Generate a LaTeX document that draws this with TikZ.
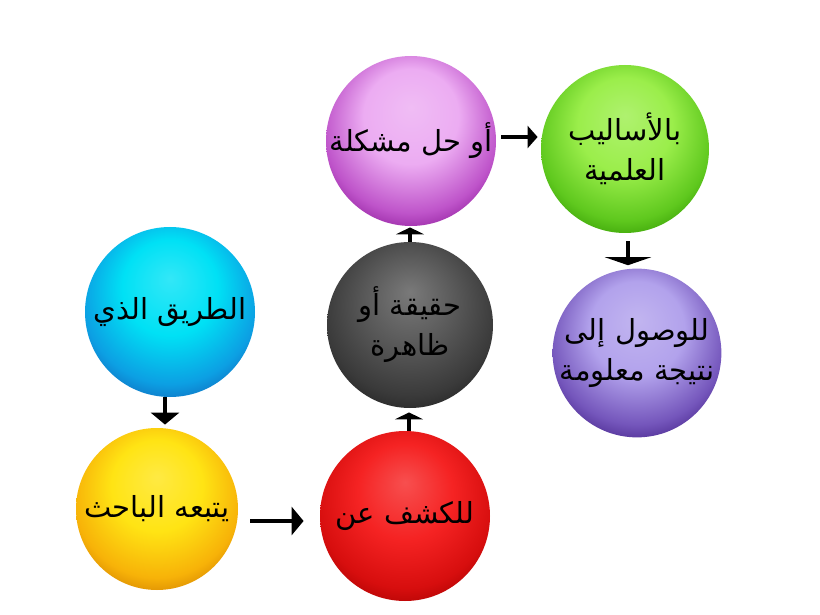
\documentclass[tikz,border=0pt]{standalone}
\usepackage{fontspec}
\newfontfamily\arabicfont[Script=Arabic]{DejaVu Sans}
\TeXXeTstate=1
\usetikzlibrary{arrows.meta}

% sphere look: light top, darker rim and bottom
\pgfdeclareradialshading[spheretop,spherebot]{sphere}{\pgfpoint{0bp}{10bp}}{%
  color(0bp)=(spheretop!80!white); color(14bp)=(spheretop);
  color(26bp)=(spheretop!40!spherebot); color(33bp)=(spherebot!85!black);
  color(50bp)=(spherebot!55!black)}

\definecolor{cyantop}{RGB}{0,225,245}    \definecolor{cyanbot}{RGB}{20,115,215}
\definecolor{yellowtop}{RGB}{255,228,20} \definecolor{yellowbot}{RGB}{242,145,0}
\definecolor{redtop}{RGB}{245,35,35}     \definecolor{redbot}{RGB}{195,0,0}
\definecolor{graytop}{RGB}{88,88,88}     \definecolor{graybot}{RGB}{38,38,38}
\definecolor{purpletop}{RGB}{236,172,242}\definecolor{purplebot}{RGB}{160,25,175}
\definecolor{greentop}{RGB}{155,238,75}  \definecolor{greenbot}{RGB}{55,175,0}
\definecolor{indigotop}{RGB}{178,162,236}\definecolor{indigobot}{RGB}{75,35,155}

\tikzset{
  ball/.style 2 args={circle,inner sep=0pt,minimum size=85pt,align=center,
    font=\arabicfont\fontsize{14.5}{20}\selectfont,text=black,
    /utils/exec={\colorlet{spheretop}{#1}\colorlet{spherebot}{#2}},shading=sphere},
  arr/.style={line width=1.6pt,-{Triangle[width=14pt,length=6pt]}}
}

\begin{document}
\begin{tikzpicture}[x=0.5pt,y=-0.5pt]
\useasboundingbox (0,0) rectangle (820,615);
\node[ball={cyantop}{cyanbot}] (tariq) at (170,312) {\beginR الطريق الذي\endR};
\node[ball={yellowtop}{yellowbot},minimum size=81pt] (baheth) at (157,509) {\beginR يتبعه الباحث\endR};
\node[ball={redtop}{redbot}] (kashf) at (405,516) {\beginR للكشف عن\endR};
\node[ball={graytop}{graybot},minimum size=83pt] (haqiqa) at (410,325) {\beginR حقيقة أو\endR\\ \beginR ظاهرة\endR};
\node[ball={purpletop}{purplebot}] (mushkila) at (411,141) {\beginR أو حل مشكلة\endR};
\node[ball={greentop}{greenbot},minimum size=84pt] (asalib) at (625,149) {\beginR بالأساليب\endR\\ \beginR العلمية\endR};
\node[ball={indigotop}{indigobot},minimum size=84pt] (wusul) at (637,353) {\beginR للوصول إلى\endR\\ \beginR نتيجة معلومة\endR};

\draw[arr,shorten >=1.5pt] ([xshift=-2.5pt]tariq.south) -- ([xshift=-2.5pt]tariq.south |- baheth.north);
\draw[arr,shorten <=6pt,shorten >=8pt] ([yshift=-6pt]baheth.east) -- ([yshift=-6pt]baheth.east -| kashf.west);
\draw[arr,-{Triangle[width=14pt,length=3.5pt]},shorten >=2pt] ([xshift=2pt]kashf.north) -- ([xshift=2pt]kashf.north |- haqiqa.south);
\draw[arr,-{Triangle[width=14pt,length=3.5pt]},shorten >=0.5pt] (haqiqa.north) -- (haqiqa.north |- mushkila.south);
\draw[arr,-{Triangle[width=11pt,length=5pt]},shorten <=2.5pt,shorten >=1.5pt] ([yshift=2pt]mushkila.east) -- ([yshift=2pt]mushkila.east -| asalib.west);
\draw[arr,-{Triangle[width=23pt,length=4pt]},shorten <=4pt,shorten >=1.5pt] ([xshift=1.5pt]asalib.south) -- ([xshift=1.5pt]asalib.south |- wusul.north);
\end{tikzpicture}
\end{document}
